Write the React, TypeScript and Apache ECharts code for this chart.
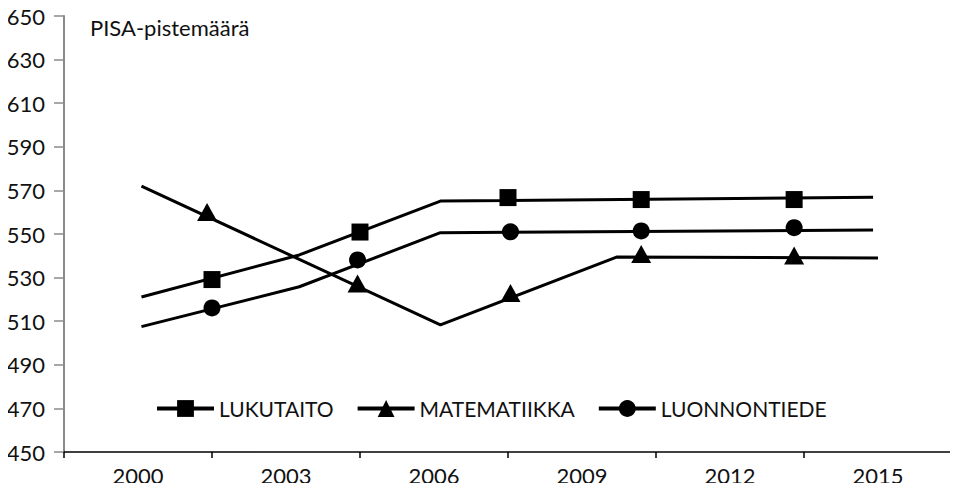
import React, { useEffect, useRef } from "react";
import * as echarts from "echarts";

const categories = ["2000", "2003", "2006", "2009", "2012", "2015"];
const yMin = 450;
const yMax = 650;
const yStep = 20;

// line vertices (x in years: category centre of 2000 = 2000, 3 years per category)
const lukuLineX = [2000.07, 2003.27, 2006.13, 2014.9];
const lukuLineY = [521.1, 540.4, 565.1, 566.9];
const mateLineX = [2000.07, 2006.13, 2009.7, 2015.0];
const mateLineY = [572.0, 508.3, 539.4, 539.0];
const luonLineX = [2000.07, 2003.27, 2006.13, 2014.9];
const luonLineY = [507.5, 525.8, 550.6, 551.8];

// marker positions
const lukuMarkX = [2001.5, 2004.5, 2007.5, 2010.2, 2013.3];
const lukuMarkY = [529.1, 550.9, 566.7, 565.8, 565.8];
const mateMarkX = [2001.4, 2004.45, 2007.55, 2010.2, 2013.3];
const mateMarkY = [560.1, 527.3, 522.9, 540.8, 540.1];
const luonMarkX = [2001.5, 2004.45, 2007.55, 2010.2, 2013.3];
const luonMarkY = [516.1, 538.1, 551.0, 551.4, 552.9];

const names = ["LUKUTAITO", "MATEMATIIKKA", "LUONNONTIEDE"];
const FONT = "Lato";

const zip = (xs: number[], ys: number[]) => xs.map((x, i) => [x, ys[i]]);

export default function App() {
  const ref = useRef<HTMLDivElement>(null);
  useEffect(() => {
    if (!ref.current) return;
    const chart = echarts.init(ref.current, undefined, { renderer: "svg" });
    const lineSeries = (name: string, symbol: string, xs: number[], ys: number[]) => ({
      name,
      type: "line",
      xAxisIndex: 1,
      data: zip(xs, ys),
      symbol,
      showSymbol: false,
      lineStyle: { color: "#000", width: 3 },
      itemStyle: { color: "#000" },
      emphasis: { disabled: true },
      z: 2,
    });
    const markSeries = (name: string, symbol: string, size: any, xs: number[], ys: number[]) => ({
      name,
      type: "scatter",
      xAxisIndex: 1,
      data: zip(xs, ys),
      symbol,
      symbolSize: size,
      itemStyle: { color: "#000", opacity: 1 },
      emphasis: { disabled: true },
      z: 3,
    });
    chart.setOption({
      animation: false,
      title: {
        text: "PISA-pistemäärä",
        left: 85,
        top: 11,
        textStyle: { fontFamily: FONT, fontSize: 22, fontWeight: "normal", color: "#111" },
      },
      legend: {
        data: names,
        left: 150,
        top: 393,
        itemWidth: 57,
        itemHeight: 21,
        itemGap: 22,
        textStyle: { fontFamily: FONT, fontSize: 21, color: "#111" },
        lineStyle: { width: 4 },
        selectedMode: false,
      },
      grid: { left: 64, right: 6, top: 16, bottom: 39 },
      xAxis: [
        {
          type: "category",
          data: categories,
          boundaryGap: true,
          axisLine: { lineStyle: { color: "#000", width: 1.5 } },
          axisTick: { show: true, length: 6, lineStyle: { color: "#000", width: 1.5 } },
          axisLabel: { fontFamily: FONT, fontSize: 22, color: "#111", margin: 12 },
          splitLine: { show: false },
        },
        {
          type: "value",
          min: 1998.5,
          max: 2016.5,
          show: false,
          splitLine: { show: false },
        },
      ],
      yAxis: {
        type: "value",
        min: yMin,
        max: yMax,
        interval: yStep,
        axisLine: { show: true, lineStyle: { color: "#8a8a8a", width: 2 } },
        axisTick: { show: true, length: 10, lineStyle: { color: "#8a8a8a", width: 1.5 } },
        axisLabel: { fontFamily: FONT, fontSize: 22, color: "#111", margin: 19 },
        splitLine: { show: false },
      },
      series: [
        lineSeries(names[0], "rect", lukuLineX, lukuLineY),
        lineSeries(names[1], "triangle", mateLineX, mateLineY),
        lineSeries(names[2], "circle", luonLineX, luonLineY),
        markSeries("m1", "rect", 17, lukuMarkX, lukuMarkY),
        markSeries("m2", "triangle", [20, 18], mateMarkX, mateMarkY),
        markSeries("m3", "circle", 17, luonMarkX, luonMarkY),
      ],
    });
    return () => chart.dispose();
  }, []);
  return <div ref={ref} style={{ width: 958, height: 491, margin: -8 }} />;
}
